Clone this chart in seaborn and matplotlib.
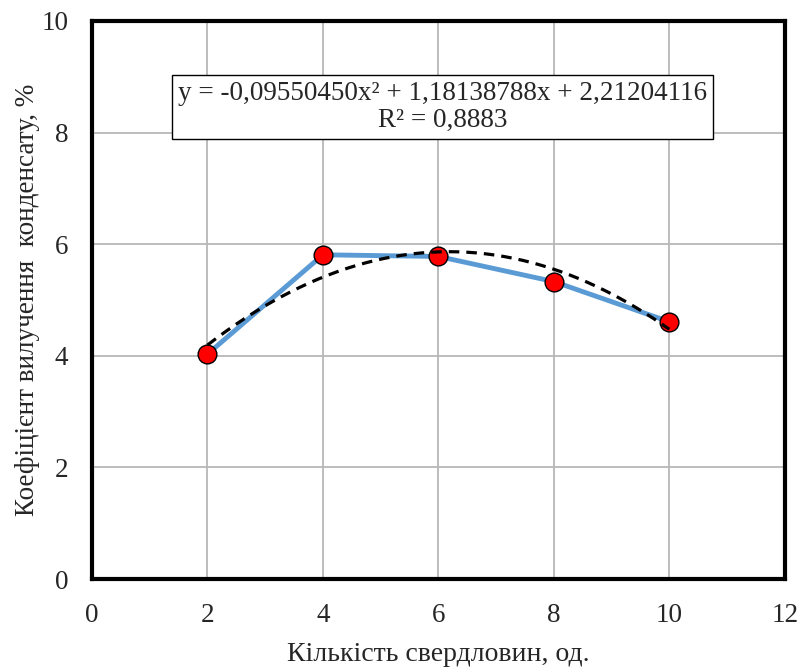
import numpy as np
import pandas as pd
import matplotlib
matplotlib.use('Agg')
import matplotlib.pyplot as plt
import seaborn as sns

# data
wells = [2, 4, 6, 8, 10]
recovery = [4.03, 5.81, 5.78, 5.33, 4.61]

# polynomial trendline coefficients as printed on the chart
trend_coef = [-0.09550450, 1.18138788, 2.21204116]
r_squared = 0.8883

x_ticks = [0, 2, 4, 6, 8, 10, 12]
y_ticks = [0, 2, 4, 6, 8, 10]

sns.set_style('white')
plt.rcParams['font.family'] = ['Liberation Serif', 'DejaVu Serif']

df = pd.DataFrame({'wells': wells, 'recovery': recovery})
x_trend = np.linspace(min(wells), max(wells), 200)
trend_df = pd.DataFrame({'x': x_trend, 'y': np.polyval(trend_coef, x_trend)})

fig = plt.figure(figsize=(8, 6.68), dpi=100)
ax = fig.add_axes([0.115, 0.1332, 0.866, 0.8354])

sns.lineplot(data=df, x='wells', y='recovery', ax=ax, color='#5B9BD5', linewidth=3.5,
             marker='o', markersize=13.5, markerfacecolor='red', markeredgecolor='black',
             markeredgewidth=1.0, zorder=3)
sns.lineplot(data=trend_df, x='x', y='y', ax=ax, color='black', linewidth=2.3,
             linestyle=(0, (3.3, 2.2)), zorder=4)

ax.set_xlim(0, 12)
ax.set_ylim(0, 10)
ax.set_xticks(x_ticks)
ax.set_yticks(y_ticks)
ax.grid(True, color='#B8B8B8', linewidth=1.3)
ax.set_axisbelow(True)
ax.tick_params(axis='both', length=0, labelsize=19.5)
ax.tick_params(axis='y', pad=17)
ax.tick_params(axis='x', pad=17)
for s in ax.spines.values():
    s.set_color('black')
    s.set_linewidth(3)

ax.set_xlabel('Кількість свердловин, од.', fontsize=20, labelpad=10)
ax.set_ylabel('Коефіцієнт вилучення  конденсату, %', fontsize=19.5, labelpad=1)

eq = (f"y = {trend_coef[0]:.8f}x\u00b2 + {trend_coef[1]:.8f}x + {trend_coef[2]:.8f}\n"
      f"R\u00b2 = {r_squared:.4f}").replace('.', ',')
ax.text(0.506, 0.846, eq, transform=ax.transAxes, ha='center', va='center',
        fontsize=19.5, linespacing=1.08, zorder=5,
        bbox=dict(boxstyle='square,pad=0.22', facecolor='white', edgecolor='black', linewidth=1.0))

fig.savefig('out.png', dpi=100)
